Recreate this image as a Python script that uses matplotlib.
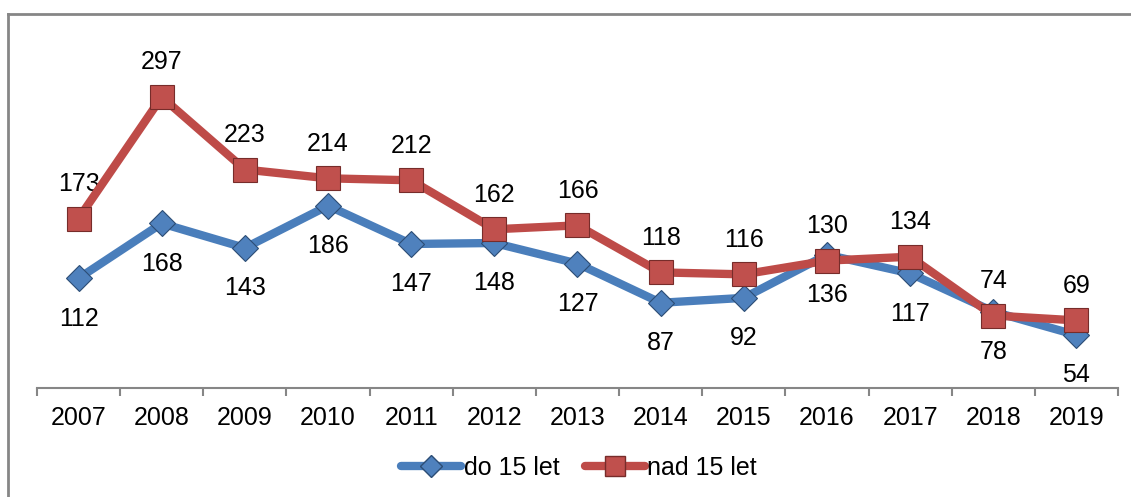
import matplotlib
matplotlib.use('Agg')
import matplotlib.pyplot as plt
from matplotlib.lines import Line2D

plt.rcParams['font.family'] = ['Liberation Sans', 'DejaVu Sans']

roky = ['2007', '2008', '2009', '2010', '2011', '2012', '2013',
        '2014', '2015', '2016', '2017', '2018', '2019']
do_15 = [112, 168, 143, 186, 147, 148, 127, 87, 92, 136, 117, 78, 54]
nad_15 = [173, 297, 223, 214, 212, 162, 166, 118, 116, 130, 134, 74, 69]

modra = '#4A7EBB'
cervena = '#BE4B48'
seda = '#868686'
fs = 18

fig = plt.figure(figsize=(11.31, 4.97), dpi=100)
ax = fig.add_axes([0.0327, 0.2193, 0.9558, 0.69])

x = list(range(len(roky)))
ax.plot(x, do_15, color=modra, lw=6, marker='D', markersize=13,
        markerfacecolor='#4F81BD', markeredgecolor='#2C4D75', markeredgewidth=0.8,
        solid_capstyle='round', zorder=3)
ax.plot(x, nad_15, color=cervena, lw=6, marker='s', markersize=17.5,
        markerfacecolor='#C0504D', markeredgecolor='#772C2A', markeredgewidth=0.8,
        solid_capstyle='round', zorder=4)

# popisky hodnot
for i in x:
    ax.annotate(str(do_15[i]), (i, do_15[i]), xytext=(0, -29), textcoords='offset points',
                ha='center', va='center', fontsize=fs)
    ax.annotate(str(nad_15[i]), (i, nad_15[i]), xytext=(0, 25), textcoords='offset points',
                ha='center', va='center', fontsize=fs)

ax.set_xlim(-0.5, 12.5)
ax.set_ylim(0, 350)
ax.set_xticks(x)
ax.set_xticklabels(roky, fontsize=fs)
ax.set_xticks([i - 0.5 for i in range(len(roky) + 1)], minor=True)
ax.tick_params(axis='x', which='major', length=0, pad=13)
ax.tick_params(axis='x', which='minor', length=6, width=1.5, color=seda, direction='out')
ax.set_yticks([])
for s in ['top', 'right', 'left']:
    ax.spines[s].set_visible(False)
ax.spines['bottom'].set_color(seda)
ax.spines['bottom'].set_linewidth(1.5)

# ramecek grafu
fig.add_artist(Line2D([0.0075, 0.0075], [0, 0.972], color=seda, lw=2))
fig.add_artist(Line2D([0.0075, 1.0], [0.972, 0.972], color=seda, lw=2))

h1 = Line2D([], [], color=modra, lw=6, marker='D', markersize=11,
            markerfacecolor='#4F81BD', markeredgecolor='#2C4D75', solid_capstyle='round')
h2 = Line2D([], [], color=cervena, lw=6, marker='s', markersize=15,
            markerfacecolor='#C0504D', markeredgecolor='#772C2A', solid_capstyle='round')
fig.legend([h1, h2], ['do 15 let', 'nad 15 let'], loc='center', bbox_to_anchor=(0.512, 0.058),
           ncol=2, frameon=False, fontsize=fs, handlelength=2.4, handletextpad=0.1,
           columnspacing=1.0)

fig.savefig('out.png', dpi=100)
